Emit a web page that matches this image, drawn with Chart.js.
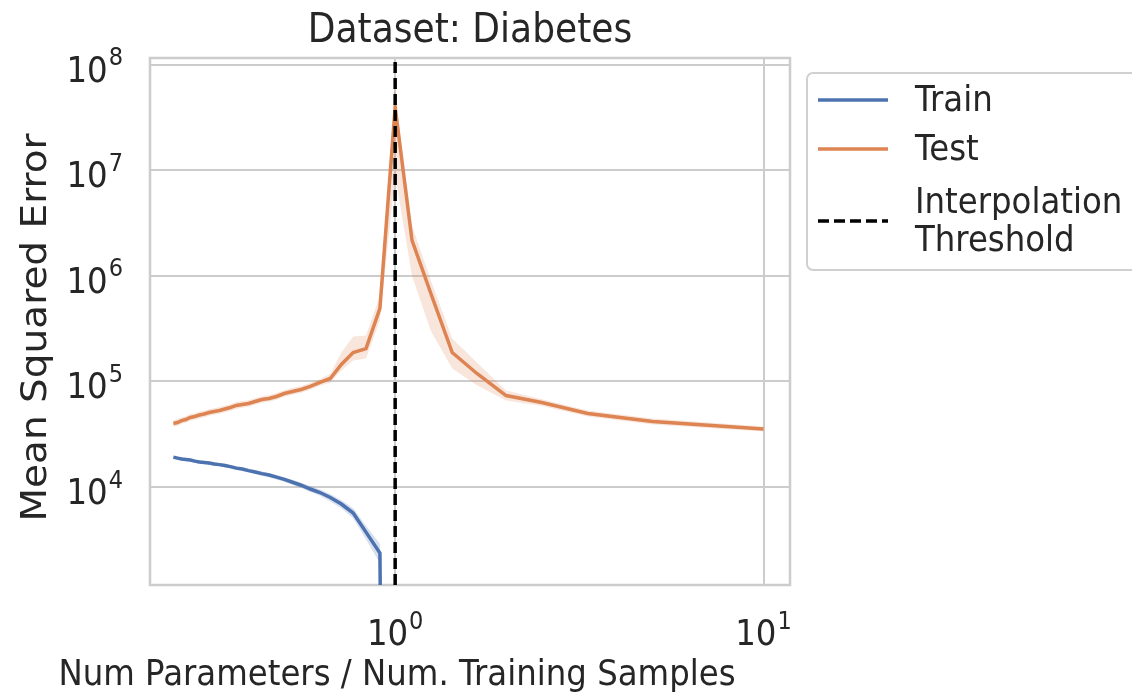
<!DOCTYPE html>
<html>
<head>
<meta charset="utf-8">
<script src="https://cdn.jsdelivr.net/npm/chart.js@4.4.1/dist/chart.umd.min.js"></script>
<style>
  html, body { margin: 0; padding: 0; background: #ffffff; }
  #wrap { width: 1132px; height: 696px; }
</style>
</head>
<body>
<div id="wrap"><canvas id="chart" width="1132" height="696"></canvas></div>
<script>
// Ratio of parameters (10 features) to training samples, from 40 samples down to 1
const paramRatio = [0.25, 0.2564, 0.2632, 0.2703, 0.2778, 0.2857, 0.2941, 0.3030, 0.3125, 0.3226,
  0.3333, 0.3448, 0.3571, 0.3704, 0.3846, 0.4, 0.4167, 0.4348, 0.4545, 0.4762,
  0.5, 0.5263, 0.5556, 0.5882, 0.625, 0.6667, 0.7143, 0.7692, 0.8333, 0.9091,
  1, 1.1111, 1.25, 1.4286, 1.6667, 2, 2.5, 3.3333, 5, 10];

// Training error: collapses to ~0 once the model can interpolate
const trainMse = [19200, 18800, 18400, 18200, 18000, 17600, 17300, 17100, 16900, 16500,
  16300, 16000, 15600, 15100, 14800, 14300, 13900, 13400, 13000, 12400,
  11800, 11100, 10400, 9580, 8870, 7950, 6900, 5670, 3740, 2370,
  1e-12, null, null, null, null, null, null, null, null, null];
const trainLow = [18600, 18200, 17800, 17600, 17400, 17000, 16700, 16500, 16300, 15900,
  15700, 15400, 15000, 14500, 14200, 13700, 13300, 12800, 12400, 11800,
  11200, 10500, 9800, 8950, 8250, 7300, 6300, 5050, 3200, 1900,
  1e-12, null, null, null, null, null, null, null, null, null];
const trainHigh = [19800, 19400, 19000, 18800, 18600, 18200, 17900, 17700, 17500, 17100,
  16900, 16600, 16200, 15700, 15400, 14900, 14500, 14000, 13600, 13000,
  12400, 11700, 11000, 10200, 9500, 8600, 7500, 6300, 4300, 2900,
  1e-12, null, null, null, null, null, null, null, null, null];

// Test error with its spread across runs
const testMse = [40000, 40800, 42600, 43600, 45600, 46600, 48100, 49200, 50800, 52000,
  53100, 54800, 56700, 59300, 60600, 61800, 64600, 67400, 69000, 72100,
  76900, 80400, 84000, 89700, 98000, 106700, 145000, 188000, 205000, 492000,
  39500000, 2170000, 682000, 188000, 119000, 73600, 63200, 49700, 41800, 35500];
const testLow = [37300, 38000, 39700, 40600, 42500, 43400, 44800, 45800, 47300, 48400,
  49400, 51000, 52800, 55200, 56400, 57500, 60100, 62700, 64200, 67100,
  71600, 74800, 78200, 83500, 91200, 98000, 127000, 158000, 165000, 380000,
  9000000, 1000000, 300000, 133000, 92000, 66000, 58500, 46500, 39200, 33500];
const testHigh = [43000, 43800, 45700, 46900, 49000, 50100, 51700, 52900, 54600, 55900,
  57100, 58900, 61000, 63800, 65200, 66500, 69500, 72500, 74200, 77600,
  82700, 86500, 90400, 96500, 105500, 118000, 188000, 267000, 273000, 650000,
  52000000, 3000000, 910000, 256000, 151000, 82000, 68000, 53000, 44500, 37500];

const interpolationThreshold = 1;
const xTickValues = [1, 10];
const yTickValues = [1e4, 1e5, 1e6, 1e7, 1e8];
const xRange = [0.216, 11.8];
const yRange = [1180, 1.16e8];

const BLUE = '#4c72b0';
const ORANGE = '#dd8452';
const INK = '#262626';
const GRID = '#cccccc';
const FONT = "'DejaVu Sans', sans-serif";
const SQUEEZE = 0.9;   // horizontal glyph compression used for all labels

const toPoints = (ys) => paramRatio.map((x, i) => ({ x: x, y: ys[i] }));

// Text drawn with slightly condensed glyphs
function condensedText(ctx, text, x, y, align, size) {
  ctx.save();
  ctx.font = size + 'px ' + FONT;
  ctx.textAlign = align;
  ctx.translate(x, y);
  ctx.scale(SQUEEZE, 1);
  ctx.fillText(text, 0, 0);
  ctx.restore();
}

// "10" with a raised exponent, as in scientific axis labels
function drawPower(ctx, value, anchorX, baseY, align) {
  const base = '10';
  const exp = String(Math.round(Math.log10(value)));
  ctx.font = '36px ' + FONT;
  const wb = ctx.measureText(base).width * SQUEEZE;
  ctx.font = '25px ' + FONT;
  const we = ctx.measureText(exp).width * SQUEEZE;
  const total = wb + we + 1;
  let x0 = anchorX;
  if (align === 'center') x0 = anchorX - total / 2;
  if (align === 'right') x0 = anchorX - total;
  ctx.textBaseline = 'alphabetic';
  condensedText(ctx, base, x0, baseY, 'left', 36);
  condensedText(ctx, exp, x0 + wb + 1, baseY - 16.5, 'left', 25);
}

// Plot frame, tick labels, titles and the legend box
const decorations = {
  id: 'decorations',
  beforeDatasetsDraw(chart) {
    const { ctx, chartArea: a } = chart;
    ctx.save();
    ctx.strokeStyle = GRID;
    ctx.lineWidth = 2.5;
    ctx.strokeRect(a.left, a.top, a.right - a.left, a.bottom - a.top);
    ctx.restore();
  },
  afterDraw(chart) {
    const { ctx, chartArea: a } = chart;
    const xs = chart.scales.x, ys = chart.scales.y;
    ctx.save();
    ctx.fillStyle = INK;

    xTickValues.forEach(v => drawPower(ctx, v, xs.getPixelForValue(v), 645, 'center'));
    yTickValues.forEach(v => drawPower(ctx, v, a.left - 27, ys.getPixelForValue(v) + 17, 'right'));

    ctx.textBaseline = 'alphabetic';
    condensedText(ctx, 'Dataset: Diabetes', (a.left + a.right) / 2, 42, 'center', 40);
    condensedText(ctx, 'Num Parameters / Num. Training Samples', 397, 685, 'center', 36);

    // y-axis caption, rotated
    ctx.save();
    ctx.translate(46, (a.top + a.bottom) / 2 + 6);
    ctx.rotate(-Math.PI / 2);
    ctx.scale(1, SQUEEZE);
    ctx.font = '39px ' + FONT;
    ctx.textAlign = 'center';
    ctx.textBaseline = 'alphabetic';
    ctx.fillText('Mean Squared Error', 0, 0);
    ctx.restore();

    // legend
    const bx = 807, by = 73, bw = 340, bh = 197;
    ctx.beginPath();
    ctx.roundRect(bx, by, bw, bh, 6);
    ctx.fillStyle = 'rgba(255,255,255,0.9)';
    ctx.fill();
    ctx.strokeStyle = '#d0d0d0';
    ctx.lineWidth = 2;
    ctx.stroke();

    const entries = [
      { color: BLUE, dash: [], y: 100, lines: ['Train'] },
      { color: ORANGE, dash: [], y: 149, lines: ['Test'] },
      { color: '#000000', dash: [11, 5], y: 221, lines: ['Interpolation', 'Threshold'] }
    ];
    entries.forEach(e => {
      ctx.beginPath();
      ctx.setLineDash(e.dash);
      ctx.strokeStyle = e.color;
      ctx.lineWidth = 3.5;
      ctx.moveTo(818, e.y);
      ctx.lineTo(888, e.y);
      ctx.stroke();
      ctx.setLineDash([]);
      ctx.fillStyle = INK;
      ctx.textBaseline = 'middle';
      const lh = 38;
      const y0 = e.y - (e.lines.length - 1) * lh / 2;
      e.lines.forEach((t, k) => condensedText(ctx, t, 915, y0 + k * lh + 2, 'left', 36));
    });
    ctx.restore();
  }
};

new Chart(document.getElementById('chart'), {
  type: 'line',
  data: {
    datasets: [
      { label: 'train low', data: toPoints(trainLow), borderWidth: 0, pointRadius: 0, fill: false, order: 5 },
      { label: 'train band', data: toPoints(trainHigh), borderWidth: 0, pointRadius: 0,
        fill: '-1', backgroundColor: 'rgba(76,114,176,0.22)', order: 5 },
      { label: 'test low', data: toPoints(testLow), borderWidth: 0, pointRadius: 0, fill: false, order: 5 },
      { label: 'test band', data: toPoints(testHigh), borderWidth: 0, pointRadius: 0,
        fill: '-1', backgroundColor: 'rgba(221,132,82,0.2)', order: 5 },
      { label: 'Train', data: toPoints(trainMse), borderColor: BLUE, borderWidth: 3.5, pointRadius: 0, fill: false, order: 2 },
      { label: 'Test', data: toPoints(testMse), borderColor: ORANGE, borderWidth: 3.5, pointRadius: 0, fill: false, order: 2 },
      { label: 'Interpolation Threshold',
        data: [{ x: interpolationThreshold, y: yRange[0] }, { x: interpolationThreshold, y: yRange[1] }],
        borderColor: '#000000', borderWidth: 3.5, borderDash: [11, 5], pointRadius: 0, fill: false, order: 1 }
    ]
  },
  options: {
    responsive: false,
    animation: false,
    devicePixelRatio: 1,
    layout: { padding: { top: 58, right: 342, bottom: 0, left: 0 } },
    elements: { line: { tension: 0 } },
    plugins: { legend: { display: false }, tooltip: { enabled: false }, title: { display: false } },
    scales: {
      x: {
        type: 'logarithmic',
        bounds: 'data',
        min: xRange[0],
        max: xRange[1],
        afterBuildTicks: (s) => { s.ticks = xTickValues.map(v => ({ value: v })); },
        afterFit: (s) => { s.height = 111; },
        ticks: { display: false },
        grid: { color: GRID, lineWidth: 2, drawTicks: false },
        border: { display: false }
      },
      y: {
        type: 'logarithmic',
        bounds: 'data',
        min: yRange[0],
        max: yRange[1],
        afterBuildTicks: (s) => { s.ticks = yTickValues.map(v => ({ value: v })); },
        afterFit: (s) => { s.width = 150; },
        ticks: { display: false },
        grid: { color: GRID, lineWidth: 2, drawTicks: false },
        border: { display: false }
      }
    }
  },
  plugins: [decorations]
});
</script>
</body>
</html>
